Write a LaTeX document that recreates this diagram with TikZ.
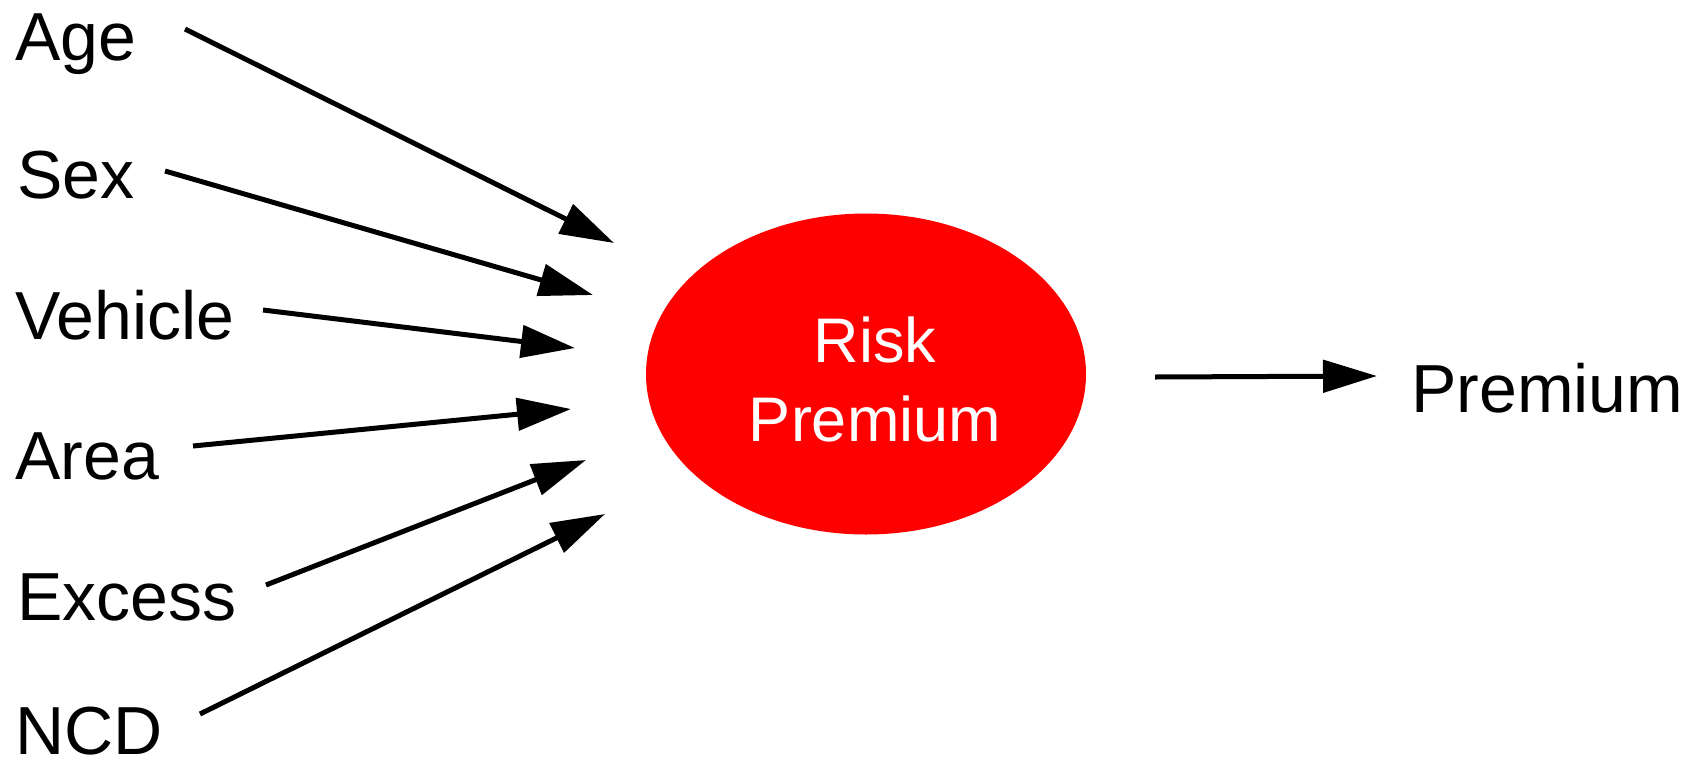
\documentclass[tikz,border=0pt]{standalone}
\usepackage{fontspec}
\setmainfont{Liberation Sans}
\usetikzlibrary{arrows.meta,shapes.geometric}
\tikzset{
  lbl/.style={anchor=base west, inner sep=0pt, font=\fontsize{68}{80}\selectfont},
  inlbl/.style={anchor=base, inner sep=0pt, text=white, font=\fontsize{63}{79}\selectfont},
  arr/.style={line width=5pt, -{Triangle[length=54pt,width=32pt]}},
}
\begin{document}
\begin{tikzpicture}[x=1pt,y=-1pt]
\useasboundingbox (0,0) rectangle (1698,761);
% input labels
\node[lbl] (age) at (15,60) {Age};
\node[lbl] (sex) at (17,198) {Sex};
\node[lbl] (veh) at (15,339) {Vehicle};
\node[lbl] (area) at (15,479) {Area};
\node[lbl] (exc) at (17,620) {Excess};
\node[lbl] (ncd) at (15,754) {NCD};
% central ellipse
\node[ellipse, fill=red, inner sep=0pt, minimum width=440pt, minimum height=321pt] (rp) at (866,374) {};
\node[inlbl] (rpa) at (875,362) {Risk};
\node[inlbl] (rpb) at (875,441) {Premium};
% output
\node[lbl] (prem) at (1411,412) {Premium};
% connector endpoints
\coordinate (s1) at (185,29);  \coordinate (e1) at (614,243);
\coordinate (s2) at (165,171); \coordinate (e2) at (593,295);
\coordinate (s3) at (263,310); \coordinate (e3) at (575,348);
\coordinate (s4) at (193,446); \coordinate (e4) at (571,409);
\coordinate (s5) at (266,585); \coordinate (e5) at (586,460);
\coordinate (s6) at (200,714); \coordinate (e6) at (605,514);
\coordinate (s7) at (1155,377); \coordinate (e7) at (1377,376);
\draw[arr] (s1) -- (e1);
\draw[arr] (s2) -- (e2);
\draw[arr] (s3) -- (e3);
\draw[arr] (s4) -- (e4);
\draw[arr] (s5) -- (e5);
\draw[arr] (s6) -- (e6);
\draw[arr] (s7) -- (e7);
\end{tikzpicture}
\end{document}
